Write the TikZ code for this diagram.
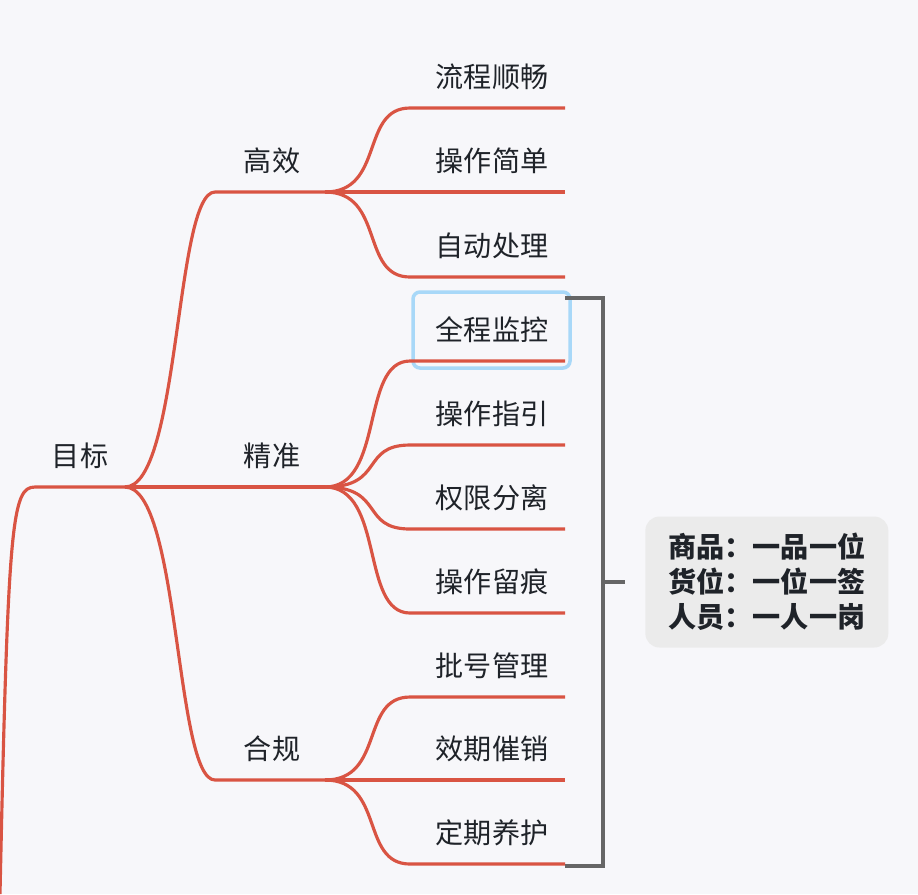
\documentclass[tikz,border=0pt]{standalone}
\usepackage{fontspec}
\setmainfont{Noto Sans CJK SC}
\usetikzlibrary{positioning}
\definecolor{bgc}{HTML}{F7F7FA}
\definecolor{linec}{HTML}{D95443}
\definecolor{txtc}{HTML}{1F2329}
\definecolor{brc}{HTML}{666666}
\definecolor{boxc}{HTML}{EBEBEB}
\definecolor{selc}{HTML}{A8D8F8}
\tikzset{
  lbl/.style={text=txtc, font=\fontsize{16pt}{19pt}\selectfont, inner sep=2pt},
  branch/.style={draw=linec, line width=1.8pt},
}
\begin{document}
\begin{tikzpicture}[x=0.02cm, y=-0.02cm]
\fill[bgc] (0,0) rectangle (918,894);
\useasboundingbox (0,0) rectangle (918,894);
% root
\coordinate (r0) at (0,894);
\coordinate (ra) at (35,487);
\coordinate (rb) at (125,487);
\node[lbl] (goal) at (80,456) {目标};
\draw[branch] (r0) .. controls (8,520) and (12,487) .. (ra) -- (rb);
% level one
\foreach \n/\t/\y in {g1/高效/192, g2/精准/487, g3/合规/780} {
  \coordinate (\n a) at (215,\y);
  \coordinate (\n b) at (325,\y);
  \node[lbl] (\n) at (272,\y-31) {\t};
  \draw[branch] (rb) .. controls (180,487) and (175,\y) .. (\n a) -- (\n b);
}
% selected leaf
\draw[selc, line width=2pt, rounded corners=4pt] (413,292) rectangle (570,368);
% leaves
\foreach \p/\py/\t/\y/\k in {g1/192/流程顺畅/108/1, g1/192/操作简单/192/2, g1/192/自动处理/277/3,
  g2/487/全程监控/361/4, g2/487/操作指引/445/5, g2/487/权限分离/529/6, g2/487/操作留痕/613/7,
  g3/780/批号管理/697/8, g3/780/效期催销/780/9, g3/780/定期养护/864/10} {
  \node[lbl] (leaf\k) at (492,\y-31) {\t};
  \coordinate (le\k) at (410,\y);
  \coordinate (lf\k) at (565,\y);
  \draw[branch] (\p b) .. controls (385,\py) and (360,\y) .. (le\k) -- (lf\k);
}
% bracket and summary
\coordinate (bt) at (565,298);
\coordinate (bb) at (565,866);
\coordinate (bm) at (603,582);
\draw[brc, line width=2.2pt] (bt) -| (bm |- bb) -- (bb);
\draw[brc, line width=2.2pt] (bm |- bt) -- (bm) -- ++(22,0) coordinate (bx);
\node[fill=boxc, rounded corners=8pt, minimum width=4.86cm, minimum height=2.62cm, text=txtc,
  font=\fontsize{16pt}{20pt}\selectfont\bfseries, align=center,
  inner sep=0pt, anchor=west] (note) at (645,582)
  {商品：一品一位\\货位：一位一签\\人员：一人一岗};
\end{tikzpicture}
\end{document}
